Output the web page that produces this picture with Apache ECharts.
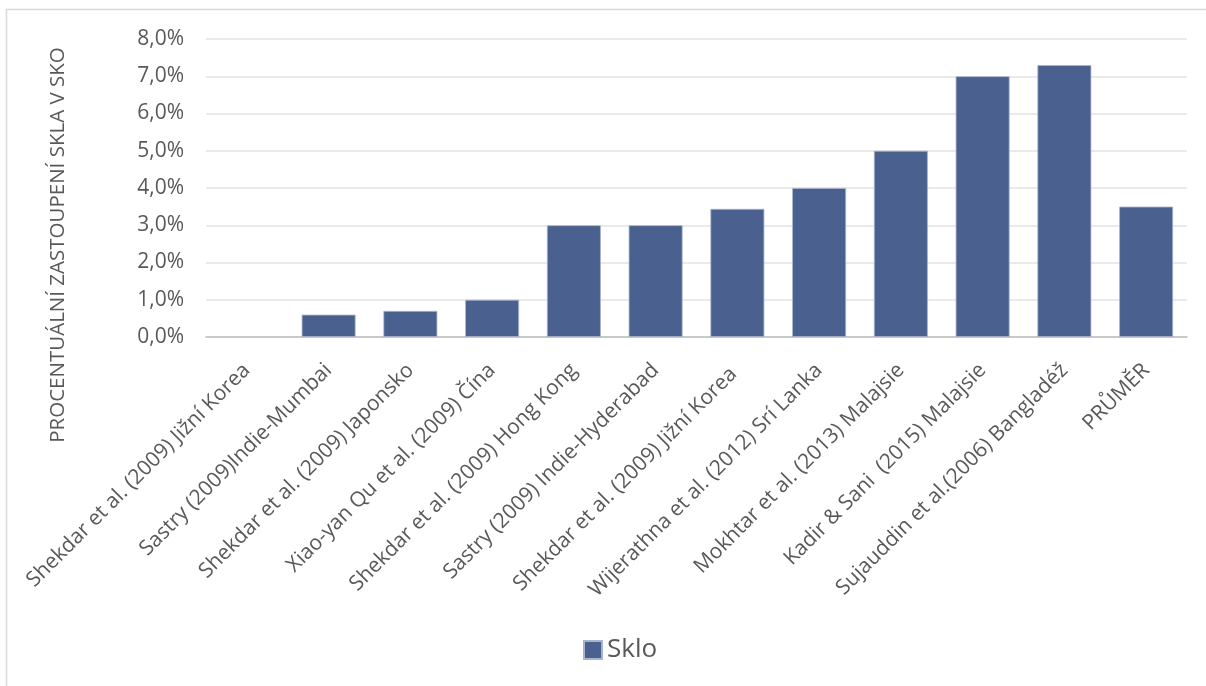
<!DOCTYPE html>
<html>
<head>
<meta charset="utf-8">
<script src="https://cdn.jsdelivr.net/npm/echarts@6/dist/echarts.min.js"></script>
<style>html,body{margin:0;padding:0;background:#fff;}#c{width:1206px;height:686px;}</style>
</head>
<body>
<div id="c"></div>
<script>
const categories = [
  "Shekdar et al. (2009) Jižní Korea",
  "Sastry (2009)Indie-Mumbai",
  "Shekdar et al. (2009) Japonsko",
  "Xiao-yan Qu et al. (2009) Čína",
  "Shekdar et al. (2009) Hong Kong",
  "Sastry (2009) Indie-Hyderabad",
  "Shekdar et al. (2009) Jižní Korea ",
  "Wijerathna et al. (2012) Srí Lanka",
  "Mokhtar et al. (2013) Malajsie",
  "Kadir & Sani  (2015) Malajsie",
  "Sujauddin et al.(2006) Bangladéž",
  "PRŮMĚR"
];
const skloValues = [0, 0.6, 0.7, 1.0, 3.0, 3.0, 3.44, 4.0, 5.0, 7.0, 7.3, 3.5];
const seriesName = "Sklo";
const yAxisTitle = "PROCENTUÁLNÍ ZASTOUPENÍ SKLA V SKO";
const yMin = 0, yMax = 8, yStep = 1;

const FONT = "'Open Sans', 'Noto Sans', sans-serif";
const TXT = "#595959";
const chart = echarts.init(document.getElementById('c'), null, {renderer: 'canvas'});
chart.setOption({
  animation: false,
  backgroundColor: '#fff',
  textStyle: {fontFamily: FONT},
  grid: {left: 206, right: 19, top: 39, bottom: 349, containLabel: false},
  graphic: [
    {type: 'rect', shape: {x: 6.5, y: 9.5, width: 1400, height: 900}, style: {fill: 'none', stroke: '#d9d9d9', lineWidth: 1.5}, silent: true, z: -10},
    {type: 'text', x: 58, y: 245, rotation: Math.PI / 2,
      style: {text: yAxisTitle, font: "20.5px " + FONT, fill: TXT, align: 'center', verticalAlign: 'middle'}}
  ],
  legend: {
    data: [seriesName], left: 578, top: 632, itemWidth: 18, itemHeight: 18, icon: 'rect',
    textStyle: {fontSize: 26, color: TXT, fontFamily: FONT}, itemGap: 8
  },
  xAxis: {
    type: 'category', data: categories,
    axisLine: {lineStyle: {color: '#bfbfbf', width: 1.5}},
    axisTick: {show: false},
    axisLabel: {rotate: 45, interval: 0, fontSize: 21, color: TXT, fontFamily: FONT, margin: 30}
  },
  yAxis: {
    type: 'value', min: yMin, max: yMax, interval: yStep,
    axisLine: {show: false}, axisTick: {show: false},
    splitLine: {lineStyle: {color: '#e3e3e3', width: 1.5}},
    axisLabel: {fontSize: 21, color: TXT, fontFamily: FONT, margin: 22,
      formatter: v => v.toFixed(1).replace('.', ',') + '%'}
  },
  series: [{
    name: seriesName, type: 'bar', barCategoryGap: '34%',
    data: skloValues.map(v => v === 0 ? {value: v, itemStyle: {borderWidth: 0}} : v),
    itemStyle: {color: '#4a6190', borderColor: '#a9b5cc', borderWidth: 0.8}
  }]
});
</script>
</body>
</html>
